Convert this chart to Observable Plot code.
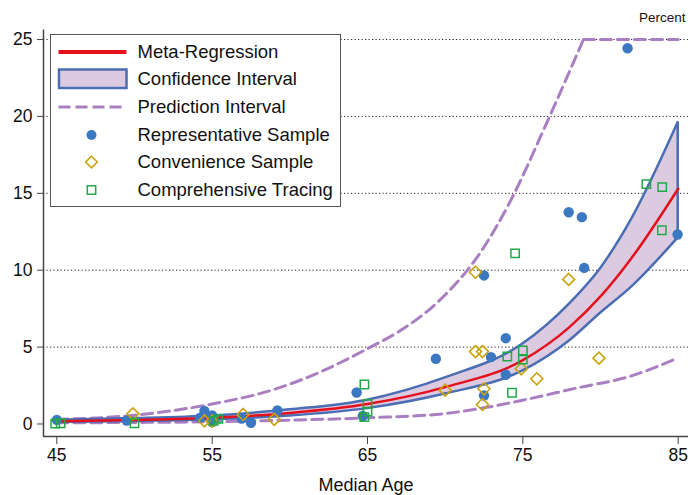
<!DOCTYPE html>
<html><head><meta charset="utf-8">
<script src="https://cdn.jsdelivr.net/npm/d3@7"></script>
<script src="https://cdn.jsdelivr.net/npm/@observablehq/plot@0.6"></script>
<style>
body{margin:0;background:#fff;font-family:"Liberation Sans",Arial,sans-serif;}
#wrap{position:relative;width:688px;height:495px;}
#legend{position:absolute;left:50px;top:34px;width:289px;height:171px;border:1.5px solid #555;background:#fff;}
.row{position:absolute;left:0;width:289px;height:28px;}
.row svg{position:absolute;left:0;top:0;}
.row span{position:absolute;left:86.5px;top:0;line-height:28px;font-size:18.5px;color:#111;white-space:nowrap;}
</style>
</head><body><div id="wrap"></div>
<script>
// ---- data ----
const xTicks = [45, 55, 65, 75, 85];
const yTicks = [0, 5, 10, 15, 20, 25];
const gridTicks = [5, 10, 15, 20, 25];

// Meta-regression fit and confidence interval
const fitAge   = [45, 50, 55, 60, 65, 70, 75, 78, 80, 82, 85];
const fitMeta  = [0.18, 0.26, 0.40, 0.72, 1.3, 2.4, 4.15, 6.3, 8.3, 10.8, 15.3];
const ciLower  = [0.10, 0.17, 0.28, 0.52, 1.0, 1.95, 3.45, 5.4, 7.2, 8.9, 12.1];
const ciUpper  = [0.25, 0.35, 0.52, 0.92, 1.55, 3.0, 5.2, 7.8, 10.1, 13.3, 19.6];

// Prediction interval (upper bound is capped at 25 from ~78.9)
const piUpAge  = [45, 50, 55, 59, 62, 65, 67, 69.7, 72.3, 74.2, 76.5, 78.9, 85];
const piUpper  = [0.3, 0.57, 1.3, 2.25, 3.4, 4.9, 6.0, 8.1, 11.2, 14.5, 19.5, 25, 25];
const piCapIndex = 11;
const piLoAge  = [45, 50, 55, 59, 65, 70, 72.5, 75, 78.7, 81.7, 85];
const piLower  = [0.08, 0.10, 0.15, 0.23, 0.4, 0.68, 1.05, 1.55, 2.39, 3.04, 4.3];

// Representative Sample
const repAge = [45.0, 49.5, 54.2, 54.5, 55.0, 55.0, 56.9, 57.5, 59.2, 64.3, 64.7, 69.4, 72.5, 72.5, 72.95, 73.9, 73.9, 77.95, 78.8, 78.95, 81.74, 84.96];
const repVal = [0.27, 0.23, 0.4, 0.85, 0.55, 0.12, 0.35, 0.08, 0.88, 2.05, 0.52, 4.24, 9.66, 1.85, 4.35, 5.58, 3.2, 13.77, 13.45, 10.15, 24.43, 12.32];

// Convenience Sample
const convAge = [49.9, 54.5, 55.0, 57.0, 59.0, 70.0, 71.95, 71.95, 72.4, 72.5, 72.4, 74.9, 75.9, 77.95, 79.9];
const convVal = [0.66, 0.2, 0.18, 0.62, 0.3, 2.2, 9.87, 4.71, 4.71, 2.29, 1.27, 3.59, 2.94, 9.4, 4.28];

// Comprehensive Tracing
const compAge = [44.9, 45.25, 50.0, 55.1, 55.4, 64.8, 65.0, 65.0, 64.8, 74.0, 75.0, 75.0, 74.3, 74.5, 82.95, 83.97, 83.95];
const compVal = [0.02, 0.05, 0.05, 0.2, 0.33, 2.57, 1.31, 0.8, 0.45, 4.39, 4.78, 4.19, 2.03, 11.1, 15.6, 15.4, 12.6];

const legendLabels = ["Meta-Regression", "Confidence Interval", "Prediction Interval", "Representative Sample", "Convenience Sample", "Comprehensive Tracing"];

// ---- styles ----
const C = {red:"#e5101d", ciFill:"#dccbe0", ciStroke:"#4b6db4", pi:"#a97fc2", rep:"#3c77c2", conv:"#c9a20c", comp:"#23a847"};

const fit = fitAge.map((a,i)=>({age:a, mid:fitMeta[i], lo:ciLower[i], hi:ciUpper[i]}));
const piU = piUpAge.map((a,i)=>({age:a, v:piUpper[i]}));
const piUCurve = piU.slice(0, piCapIndex + 1);
const piUCap = piU.slice(piCapIndex);
const piL = piLoAge.map((a,i)=>({age:a, v:piLower[i]}));
const rep = repAge.map((a,i)=>({age:a, v:repVal[i]}));
const conv = convAge.map((a,i)=>({age:a, v:convVal[i]}));
const comp = compAge.map((a,i)=>({age:a, v:compVal[i]}));

const xDomain = [44.144, 85.663], yDomain = [-0.813, 25.62];
const piStyle = {x: "age", y: "v", stroke: C.pi, strokeWidth: 3, strokeDasharray: "11,6"};

const chart = Plot.plot({
  width: 688, height: 495,
  marginLeft: 43, marginRight: 0, marginTop: 29.5, marginBottom: 59,
  x: {domain: xDomain},
  y: {domain: yDomain},
  style: {fontFamily: '"Liberation Sans", Arial, sans-serif', fontSize: "17.5px", color: "#111", background: "white"},
  marks: [
    Plot.ruleY(gridTicks, {stroke: "#222", strokeDasharray: "1.2,2.3", strokeWidth: 1}),
    Plot.line(piUCurve, {...piStyle, curve: "monotone-x"}),
    Plot.line(piUCap, {...piStyle, curve: "linear"}),
    Plot.line(piL, {...piStyle, curve: "monotone-x"}),
    Plot.areaY(fit, {x: "age", y1: "lo", y2: "hi", fill: C.ciFill, fillOpacity: 1, stroke: C.ciStroke, strokeWidth: 2.5, curve: "monotone-x"}),
    Plot.line(fit, {x: "age", y: "mid", stroke: C.red, strokeWidth: 2.5, curve: "monotone-x"}),
    Plot.dot(rep, {x: "age", y: "v", r: 5.2, fill: C.rep}),
    Plot.dot(conv, {x: "age", y: "v", symbol: "diamond2", r: 5.4, stroke: C.conv, strokeWidth: 1.6, fill: "none"}),
    Plot.dot(comp, {x: "age", y: "v", symbol: "square", r: 4.7, stroke: C.comp, strokeWidth: 1.5, fill: "none"}),
    Plot.ruleX([xDomain[0]], {stroke: "#444", strokeWidth: 1.5}),
    Plot.ruleY([yDomain[0]], {stroke: "#444", strokeWidth: 1.5}),
    Plot.axisX({ticks: xTicks, tickSize: 8, tickPadding: 4, label: null, stroke: "#444"}),
    Plot.axisY({ticks: yTicks, tickSize: 6, tickPadding: 5, label: null, stroke: "#444"}),
    Plot.text(["Percent"], {frameAnchor: "top-right", dx: -3, dy: -8, lineAnchor: "bottom", textAnchor: "end", fontSize: 13.5, fill: "#111"}),
    Plot.text(["Median Age"], {frameAnchor: "bottom", dy: 54, lineAnchor: "bottom", fontSize: 18, fill: "#111"})
  ]
});
const wrap = document.getElementById("wrap");
wrap.appendChild(chart);

// ---- legend overlay ----
const leg = document.createElement("div");
leg.id = "legend";
wrap.appendChild(leg);
const centers = [16.5, 44.3, 71.8, 99.5, 127.3, 155.2];
legendLabels.forEach((lab, i) => {
  const row = document.createElement("div");
  row.className = "row";
  row.style.top = (centers[i] - 14) + "px";
  let sym = "";
  if (i === 0) sym = `<line x1="7.5" x2="75.5" y1="14" y2="14" stroke="${C.red}" stroke-width="4"/>`;
  if (i === 1) sym = `<rect x="8" y="4.5" width="67.5" height="18.5" fill="${C.ciFill}" stroke="${C.ciStroke}" stroke-width="2.5"/>`;
  if (i === 2) sym = `<line x1="7.5" x2="75.5" y1="14" y2="14" stroke="${C.pi}" stroke-width="3" stroke-dasharray="12,5"/>`;
  if (i === 3) sym = `<circle cx="40.5" cy="14" r="5" fill="${C.rep}"/>`;
  if (i === 4) sym = `<path d="M40.5,8.2L46.3,14L40.5,19.8L34.7,14Z" fill="none" stroke="${C.conv}" stroke-width="1.6"/>`;
  if (i === 5) sym = `<rect x="36.3" y="9.8" width="8.4" height="8.4" fill="none" stroke="${C.comp}" stroke-width="1.5"/>`;
  row.innerHTML = `<svg width="80" height="28">${sym}</svg><span>${lab}</span>`;
  leg.appendChild(row);
});
</script>
</body></html>
